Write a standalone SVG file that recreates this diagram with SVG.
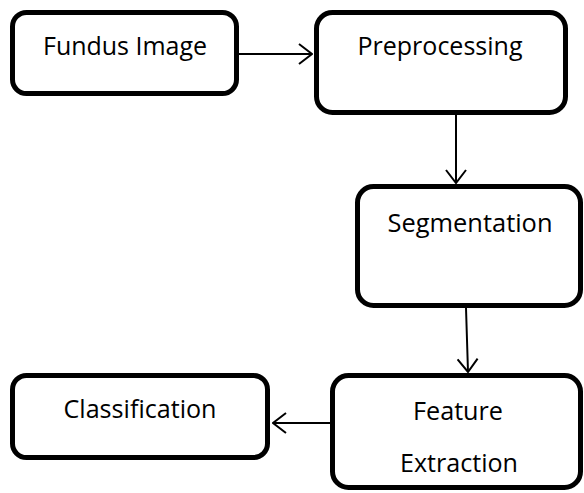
<svg xmlns="http://www.w3.org/2000/svg" width="584" height="493" viewBox="0 0 584 493">
<style>
.box{fill:#fff;stroke:#000;stroke-width:5}
.lbl{font-family:"Open Sans","Liberation Sans",sans-serif;font-size:25px;fill:#000;text-anchor:middle}
.con{stroke:#000;stroke-width:2;fill:none}
</style>
<defs>
<marker id="arr" viewBox="0 0 15 22" refX="14" refY="11" markerWidth="15" markerHeight="22" markerUnits="userSpaceOnUse" orient="auto">
<path d="M1,1 L14,11 L1,21" fill="none" stroke="#000" stroke-width="2"/>
</marker>
</defs>
<rect width="584" height="493" fill="#fff"/>
<g id="connectors">
<line class="con" x1="239" y1="54" x2="312" y2="54" marker-end="url(#arr)"/>
<line class="con" x1="456" y1="115" x2="456" y2="183" marker-end="url(#arr)"/>
<line class="con" x1="466" y1="308" x2="468" y2="372" marker-end="url(#arr)"/>
<line class="con" x1="330" y1="423" x2="273" y2="423" marker-end="url(#arr)"/>
</g>
<g id="fundus">
<rect class="box" x="12.5" y="12.5" width="224" height="81" rx="14"/>
<text class="lbl" x="125" y="55" textLength="164" lengthAdjust="spacingAndGlyphs">Fundus Image</text>
</g>
<g id="preprocessing">
<rect class="box" x="316.5" y="12.5" width="249" height="100" rx="16"/>
<text class="lbl" x="440" y="55" textLength="165" lengthAdjust="spacingAndGlyphs">Preprocessing</text>
</g>
<g id="segmentation">
<rect class="box" x="357.5" y="186.5" width="223" height="119" rx="16"/>
<text class="lbl" x="470" y="232" textLength="165" lengthAdjust="spacingAndGlyphs">Segmentation</text>
</g>
<g id="feature">
<rect class="box" x="332.5" y="375.5" width="248" height="112" rx="16"/>
<text class="lbl" x="458" y="420" textLength="90" lengthAdjust="spacingAndGlyphs">Feature</text>
<text class="lbl" x="459" y="472" textLength="118" lengthAdjust="spacingAndGlyphs">Extraction</text>
</g>
<g id="classification">
<rect class="box" x="12.5" y="375.5" width="255" height="82" rx="14"/>
<text class="lbl" x="140" y="418" textLength="153" lengthAdjust="spacingAndGlyphs">Classification</text>
</g>
</svg>
